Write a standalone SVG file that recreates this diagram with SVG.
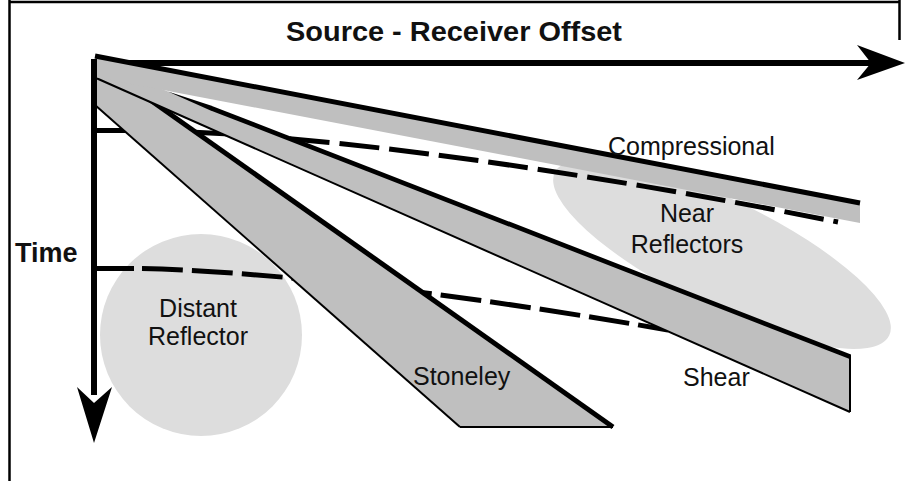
<svg xmlns="http://www.w3.org/2000/svg" width="906" height="481" viewBox="0 0 906 481">
<style>
text{font-family:"Liberation Sans",Arial,sans-serif;fill:#111}
.lbl{font-size:25px}
.bold{font-weight:bold}
.band{fill:#bfbfbf;stroke:none}
.thick{stroke:#000;stroke-width:5;fill:none}
.thin{stroke:#000;stroke-width:2;fill:none}
.dash{stroke:#000;stroke-width:5;fill:none;stroke-dasharray:40 10}
.blob{fill:#dddddd;stroke:none}
</style>
<rect x="0" y="0" width="906" height="481" fill="#fff"/>
<g id="frame" stroke="#000" stroke-width="2.5" fill="none">
<line x1="9.5" y1="2" x2="900" y2="2"/>
<line x1="9.5" y1="0" x2="9.5" y2="481"/>
<line x1="899.5" y1="0" x2="899.5" y2="40"/>
</g>
<g id="distant-reflector">
<circle class="blob" cx="201" cy="335" r="101"/>
</g>
<g id="near-reflectors">
<ellipse class="blob" cx="722" cy="254" rx="186" ry="54" transform="rotate(26 722 254)"/>
</g>
<g id="connectors">
<line x1="94" y1="130.5" x2="142" y2="130.5" stroke="#000" stroke-width="5"/>
<path class="dash" d="M140,130.5 C330,133 600,175 838,222"/>
<line x1="94" y1="268.5" x2="134" y2="268.5" stroke="#000" stroke-width="5"/>
<path class="dash" d="M142,268.5 C260,271 450,292 668,330" style="stroke-dasharray:41 9"/>
<line x1="94" y1="63" x2="875" y2="63" stroke="#000" stroke-width="6"/>
<polygon points="857,45 905,63 857,80 871,63" fill="#000"/>
</g>
<g id="stoneley">
<polygon class="band" points="95,61 613,427 460,427 95,105"/>
<line class="thin" x1="95" y1="105" x2="460" y2="427"/>
<line class="thin" x1="460" y1="427" x2="613" y2="427"/>
<line class="thick" x1="95" y1="61" x2="613" y2="427" stroke-width="5.5"/>
</g>
<g id="shear">
<polygon class="band" points="95,63 850,357 850,412 95,78"/>
<line class="thin" x1="96" y1="78" x2="850" y2="412"/>
<line class="thin" x1="850" y1="357" x2="850" y2="412"/>
<polygon points="168,91.4 210,105.2 851,354.5 851,359.5 210,110.2" fill="#000"/>
</g>
<g id="compressional">
<polygon class="band" points="95,56 860,203 860,223 95,77"/>
<line class="thick" x1="95" y1="56" x2="860" y2="203" stroke-width="4.5"/>
</g>
<g id="time-axis">
<line x1="94" y1="59" x2="94" y2="395" stroke="#000" stroke-width="6"/>
<polygon points="77,387 94,443 112,387 94,403" fill="#000"/>
</g>
<g id="labels">
<text class="bold" x="454" y="41" text-anchor="middle" font-size="27.5" textLength="336" lengthAdjust="spacingAndGlyphs">Source - Receiver Offset</text>
<text class="bold" x="15" y="262" font-size="27">Time</text>
<text class="lbl" x="608" y="155">Compressional</text>
<text class="lbl" x="687" y="222" text-anchor="middle">Near</text>
<text class="lbl" x="687" y="253" text-anchor="middle">Reflectors</text>
<text class="lbl" x="198" y="317" text-anchor="middle">Distant</text>
<text class="lbl" x="198" y="345" text-anchor="middle">Reflector</text>
<text class="lbl" x="413" y="385">Stoneley</text>
<text class="lbl" x="683" y="386">Shear</text>
</g>
</svg>
